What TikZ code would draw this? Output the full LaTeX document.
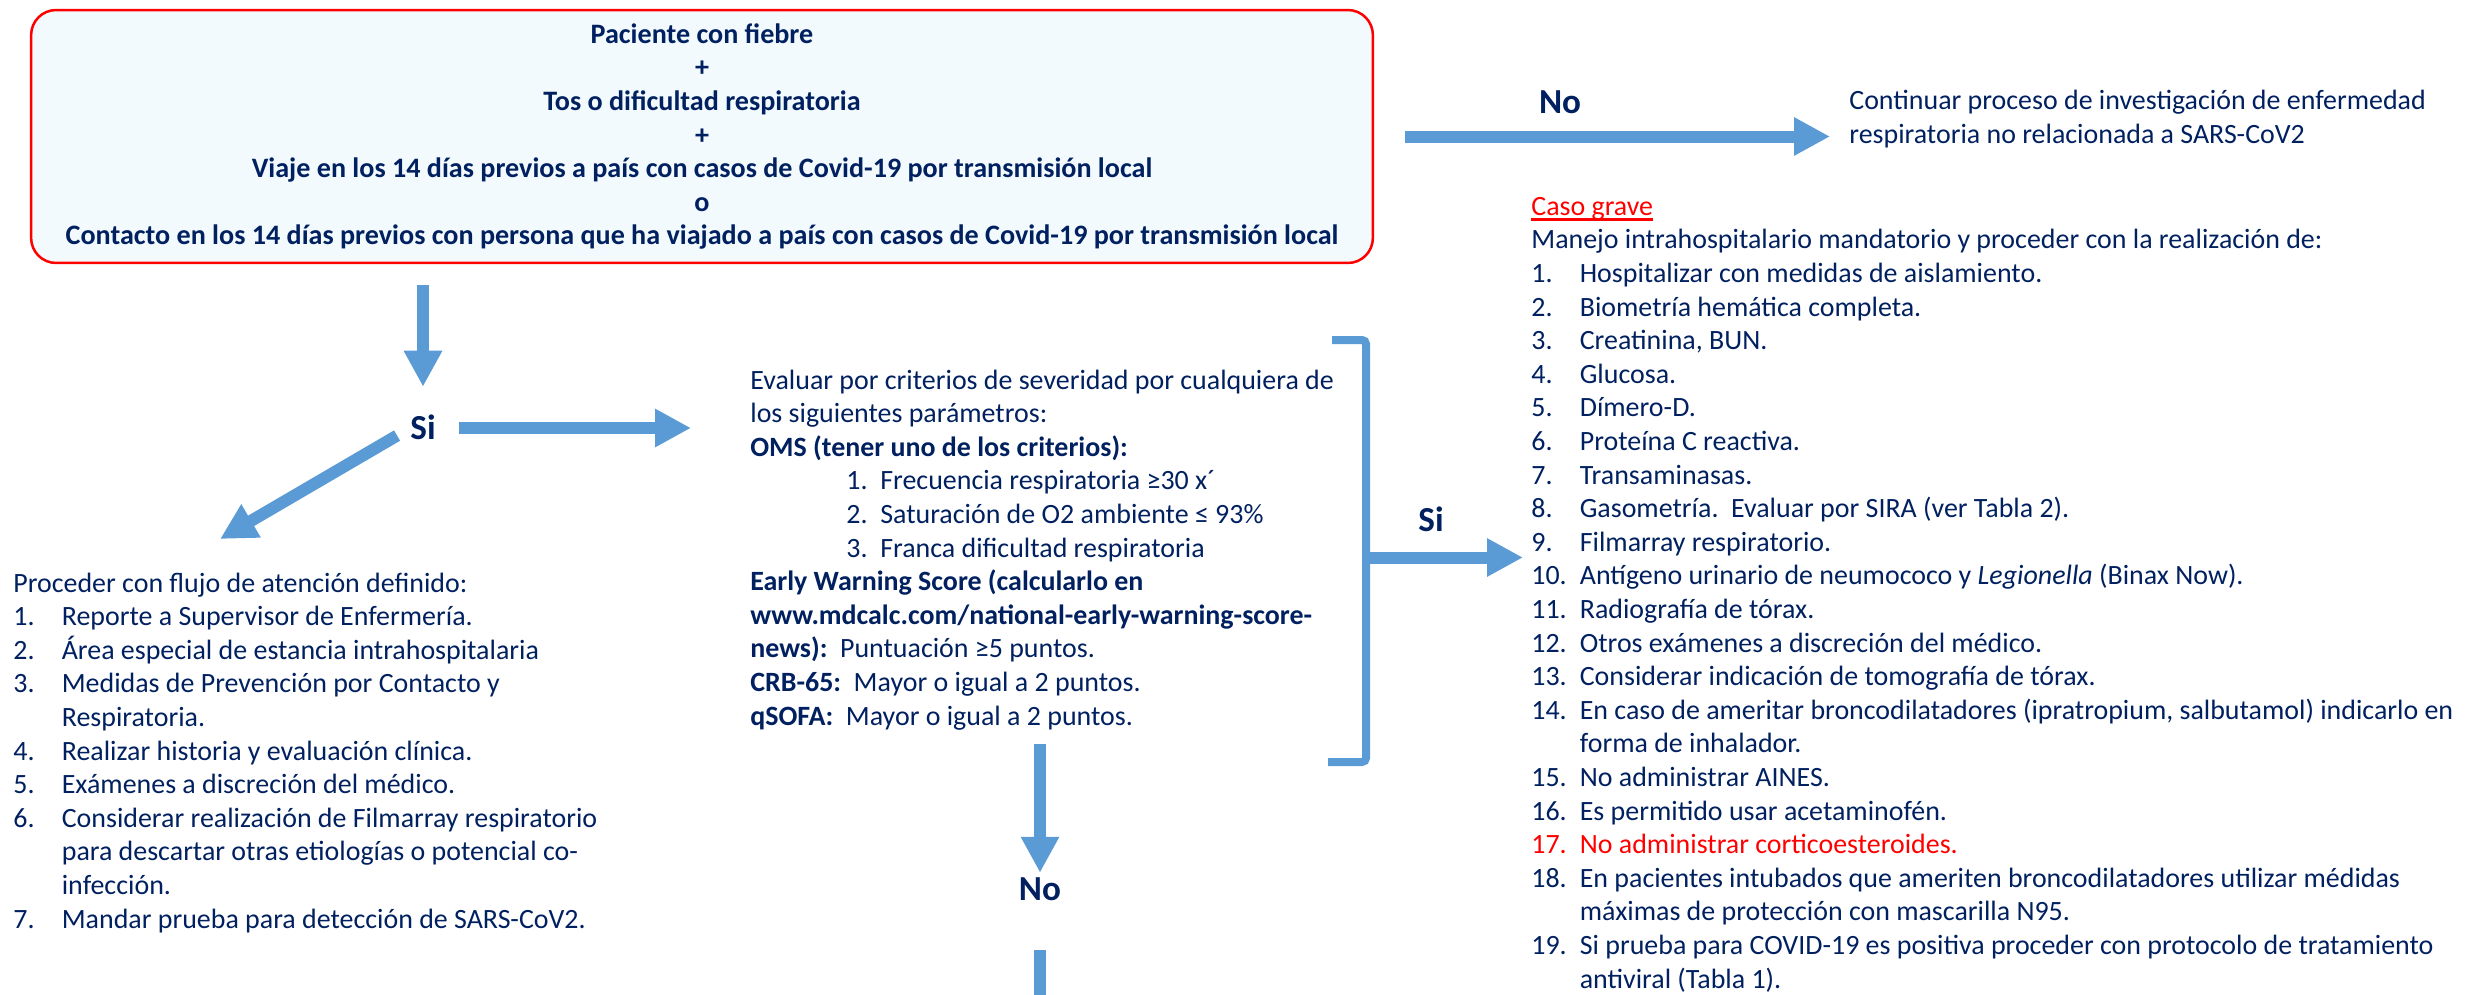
\documentclass[tikz,border=0pt]{standalone}
\usepackage{fontspec}
\setmainfont{Carlito}
\usepackage{xcolor}
\usepackage{tikz}
\usetikzlibrary{arrows.meta,positioning}

\definecolor{navy}{HTML}{002060}
\definecolor{arrowblue}{HTML}{5B9BD5}
\definecolor{boxfill}{HTML}{F3FAFE}

\newcommand{\txtfont}{\fontsize{15.9}{19.12}\selectfont}
\newcommand{\lblfont}{\fontsize{20}{24}\selectfont\bfseries}
% numbered line and continuation line
\newcommand{\li}[3][0.97cm]{\makebox[#1][l]{#2}#3}
\newcommand{\cnt}[2][0.97cm]{\hspace*{#1}#2}
% thick underline
\newcommand{\thickul}[1]{\setbox0\hbox{#1}\rlap{\rule[-3pt]{\wd0}{1.3pt}}\box0}

\tikzset{
  txt/.style={anchor=base west, inner sep=0pt, align=left, text=navy, font=\txtfont},
  lbl/.style={inner sep=0pt, text height=13pt, text depth=0pt, text=navy, font=\lblfont},
  bigarrow/.style={draw=arrowblue, line width=0.24cm, -{Triangle[length=0.72cm,width=0.72cm]}},
  bigshaft/.style={draw=arrowblue, line width=0.24cm},
  bracket/.style={draw=arrowblue, line width=0.16cm, rounded corners=0.08cm}
}

\begin{document}
\begin{tikzpicture}[x=0.02cm,y=-0.02cm]
    \useasboundingbox (0,0) rectangle (2477,994);

    % Criteria box
    \node[draw=red, line width=0.05cm, fill=boxfill, rounded corners=0.5cm,
          minimum width=26.84cm, minimum height=5.06cm, inner sep=0pt,
          align=center, text=navy, font=\fontsize{16}{19.12}\selectfont\bfseries]
      (crit) at (702,136.5) {Paciente con fiebre\\+\\Tos o dificultad respiratoria\\+\\
        Viaje en los 14 días previos a país con casos de Covid-19 por transmisión local\\o\\
        Contacto en los 14 días previos con persona que ha viajado a país con casos de Covid-19 por transmisión local};

    % No branch
    \node[lbl] (no1) at (1560,102) {No};
    \node[txt] (cont) at (1849,143) {Continuar proceso de investigación de enfermedad\\
      respiratoria no relacionada a SARS-CoV2};
    \draw[bigarrow, shorten <=0.62cm, shorten >=0.38cm] (crit.east) -- (crit.east -| cont.west);

    % Si branch
    \node[lbl] (si1) at (423,428) {Si};
    \draw[bigarrow, shorten <=0.42cm, shorten >=0.59cm] (crit.south -| si1) -- (si1.north);

    % Standard care list
    \node[txt] (proc) at (13,928) {Proceder con flujo de atención definido:\\
      \li{1.}{Reporte a Supervisor de Enfermería.}\\
      \li{2.}{Área especial de estancia intrahospitalaria}\\
      \li{3.}{Medidas de Prevención por Contacto y}\\
      \cnt{Respiratoria.}\\
      \li{4.}{Realizar historia y evaluación clínica.}\\
      \li{5.}{Exámenes a discreción del médico.}\\
      \li{6.}{Considerar realización de Filmarray respiratorio}\\
      \cnt{para descartar otras etiologías o potencial co-}\\
      \cnt{infección.}\\
      \li{7.}{Mandar prueba para detección de SARS-CoV2.}};
    \coordinate (diagtip) at (220,539);
    \draw[bigarrow, shorten <=0.3cm] (si1.west) -- (diagtip);

    % Severity criteria
    \node[txt] (sev) at (750,725) {Evaluar por criterios de severidad por cualquiera de\\
      los siguientes parámetros:\\
      \textbf{OMS (tener uno de los criterios):}\\
      \cnt[1.92cm]{\li[0.68cm]{1.}{Frecuencia respiratoria ≥30 x´}}\\
      \cnt[1.92cm]{\li[0.68cm]{2.}{Saturación de O2 ambiente ≤ 93\%}}\\
      \cnt[1.92cm]{\li[0.68cm]{3.}{Franca dificultad respiratoria}}\\
      \textbf{Early Warning Score (calcularlo en}\\
      \textbf{www.mdcalc.com/national-early-warning-score-}\\
      \textbf{news):}\ \ Puntuación ≥5 puntos.\\
      \textbf{CRB-65:}\ \ Mayor o igual a 2 puntos.\\
      \textbf{qSOFA:}\ \ Mayor o igual a 2 puntos.};
    \draw[bigarrow, shorten <=0.47cm, shorten >=1.18cm] (si1.east) -- (si1.east -| sev.west);

    % Bracket
    \coordinate (brtop) at (1332,340);
    \coordinate (brbot) at (1328,762);
    \coordinate (brmid) at (1366,557.5);
    \draw[bracket] (brtop) -- (brtop -| brmid) -- (brbot -| brmid) -- (brbot);

    % Severe case
    \node[lbl] (si2) at (1431,520) {Si};
    \node[txt] (grave) at (1531,988) {\textcolor{red}{\thickul{Caso grave}}\\
      Manejo intrahospitalario mandatorio y proceder con la realización de:\\
      \li{1.}{Hospitalizar con medidas de aislamiento.}\\
      \li{2.}{Biometría hemática completa.}\\
      \li{3.}{Creatinina, BUN.}\\
      \li{4.}{Glucosa.}\\
      \li{5.}{Dímero-D.}\\
      \li{6.}{Proteína C reactiva.}\\
      \li{7.}{Transaminasas.}\\
      \li{8.}{Gasometría.\ \ Evaluar por SIRA (ver Tabla 2).}\\
      \li{9.}{Filmarray respiratorio.}\\
      \li{10.}{Antígeno urinario de neumococo y \textit{Legionella} (Binax Now).}\\
      \li{11.}{Radiografía de tórax.}\\
      \li{12.}{Otros exámenes a discreción del médico.}\\
      \li{13.}{Considerar indicación de tomografía de tórax.}\\
      \li{14.}{En caso de ameritar broncodilatadores (ipratropium, salbutamol) indicarlo en}\\
      \cnt{forma de inhalador.}\\
      \li{15.}{No administrar AINES.}\\
      \li{16.}{Es permitido usar acetaminofén.}\\
      \textcolor{red}{\li{17.}{No administrar corticoesteroides.}}\\
      \li{18.}{En pacientes intubados que ameriten broncodilatadores utilizar médidas}\\
      \cnt{máximas de protección con mascarilla N95.}\\
      \li{19.}{Si prueba para COVID-19 es positiva proceder con protocolo de tratamiento}\\
      \cnt{antiviral (Tabla 1).}};
    \draw[bigarrow, shorten >=0.16cm] (brmid) -- (brmid -| grave.west);

    % Not severe
    \node[lbl] (no2) at (1040,889) {No};
    \draw[bigarrow, shorten <=0.28cm, shorten >=0.09cm] (sev.south -| no2) -- (no2.north);
    \coordinate (cutoff) at (1040,1010);
    \draw[bigshaft, shorten <=0.99cm] (no2.south) -- (cutoff);
\end{tikzpicture}
\end{document}
